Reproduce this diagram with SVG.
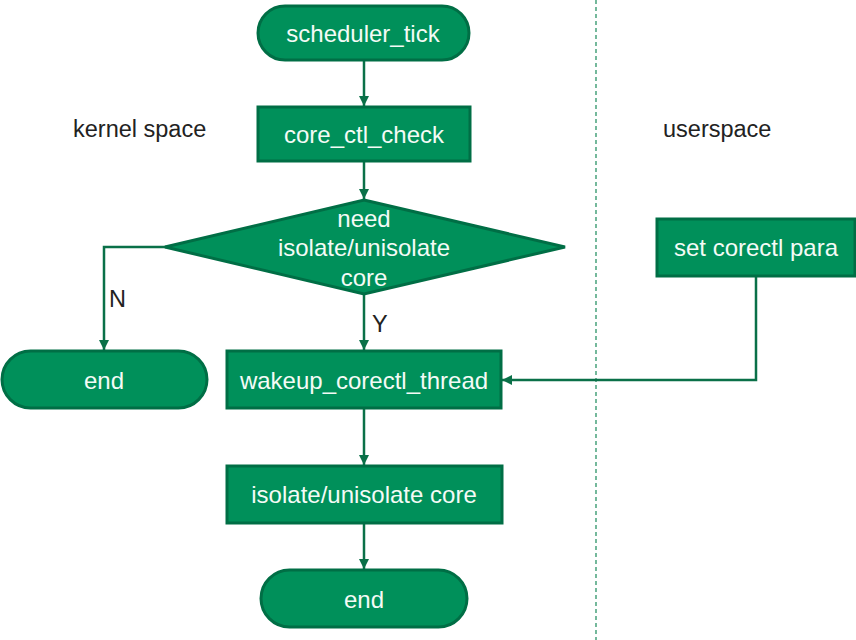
<svg xmlns="http://www.w3.org/2000/svg" width="856" height="640" viewBox="0 0 856 640">
<defs>
<style>
.node{fill:#00905A;stroke:#006E45;stroke-width:3}
.nt{font-family:"Liberation Sans",Arial,sans-serif;font-size:24px;fill:#F4FBF6;text-anchor:middle;dominant-baseline:central}
.lbl{font-family:"Liberation Sans",Arial,sans-serif;font-size:23.5px;fill:#222222}
.conn{fill:none;stroke:#0A7048;stroke-width:2.5}
.dash{stroke:#1A8A5A;stroke-width:1.2;stroke-dasharray:4 3}
</style>
<marker id="arr" viewBox="0 0 10 10" refX="10" refY="5" markerWidth="4" markerHeight="4" orient="auto" markerUnits="strokeWidth">
<path d="M0,0 L10,5 L0,10 z" fill="#0A7048"/>
</marker>
</defs>
<rect width="856" height="640" fill="#FFFFFF"/>
<line class="dash" x1="596" y1="0" x2="596" y2="640"/>
<text class="lbl" x="73" y="137">kernel space</text>
<text class="lbl" x="663" y="137">userspace</text>
<g id="connectors">
<path class="conn" d="M364,60 L364,106" marker-end="url(#arr)"/>
<path class="conn" d="M364,162 L364,199" marker-end="url(#arr)"/>
<path class="conn" d="M364,294 L364,350" marker-end="url(#arr)"/>
<path class="conn" d="M166,247 L104,247 L104,350" marker-end="url(#arr)"/>
<path class="conn" d="M756,276 L756,380 L502,380" marker-end="url(#arr)"/>
<path class="conn" d="M364,408 L364,465" marker-end="url(#arr)"/>
<path class="conn" d="M364,523 L364,569" marker-end="url(#arr)"/>
<text class="lbl" x="109" y="307">N</text>
<text class="lbl" x="372" y="332">Y</text>
</g>
<g id="scheduler_tick">
<rect class="node" x="258" y="6" width="211" height="54" rx="27"/>
<text class="nt" x="363" y="33">scheduler_tick</text>
</g>
<g id="core_ctl_check">
<rect class="node" x="258" y="107" width="212" height="54"/>
<text class="nt" x="364" y="134">core_ctl_check</text>
</g>
<g id="decision">
<polygon class="node" points="364,200 565,247 364,294 165,247"/>
<text class="nt" x="364" y="218">need</text>
<text class="nt" x="364" y="247">isolate/unisolate</text>
<text class="nt" x="364" y="277">core</text>
</g>
<g id="end_left">
<rect class="node" x="2" y="351" width="205" height="57" rx="28.5"/>
<text class="nt" x="104" y="380">end</text>
</g>
<g id="wakeup">
<rect class="node" x="227" y="351" width="274" height="57"/>
<text class="nt" x="364" y="380">wakeup_corectl_thread</text>
</g>
<g id="set_para">
<rect class="node" x="657" y="219" width="198" height="57"/>
<text class="nt" x="756" y="247">set corectl para</text>
</g>
<g id="isolate">
<rect class="node" x="227" y="466" width="275" height="57"/>
<text class="nt" x="364" y="494">isolate/unisolate core</text>
</g>
<g id="end_bottom">
<rect class="node" x="261" y="570" width="206" height="57" rx="28.5"/>
<text class="nt" x="364" y="599">end</text>
</g>
</svg>
